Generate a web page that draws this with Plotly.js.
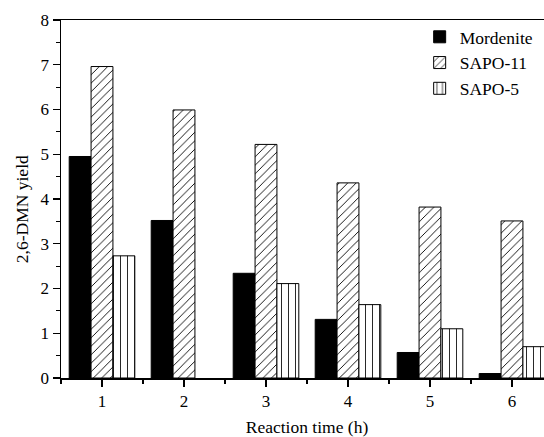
<!DOCTYPE html>
<html>
<head>
<meta charset="utf-8">
<script src="https://cdn.plot.ly/plotly-3.0.1.min.js"></script>
<style>
html,body{margin:0;padding:0;overflow:hidden;background:#fff;}
#chart{width:573px;height:437px;}
</style>
</head>
<body>
<div id="chart"></div>
<script>
const times = [1, 2, 3, 4, 5, 6];
const mordenite = [4.95, 3.52, 2.34, 1.31, 0.57, 0.10];
const sapo11 = [6.96, 5.99, 5.22, 4.36, 3.82, 3.51];
const sapo5 = [2.73, null, 2.11, 1.64, 1.10, 0.70];
const seriesNames = ['Mordenite', 'SAPO-11', 'SAPO-5'];
const tickLabels = ['1', '2', '3', '4', '5', '6'];

const FONT = 'Liberation Serif, Times New Roman, serif';

const traces = [
  {
    type: 'bar', name: seriesNames[0], x: times, y: mordenite,
    marker: {color: '#000', line: {color: '#000', width: 1}}
  },
  {
    type: 'bar', name: seriesNames[1], x: times, y: sapo11,
    marker: {color: '#fff', line: {color: '#000', width: 1},
      pattern: {shape: '/', fgcolor: '#000', bgcolor: '#fff', size: 6, solidity: 0.15}}
  },
  {
    type: 'bar', name: seriesNames[2], x: times, y: sapo5,
    marker: {color: '#fff', line: {color: '#000', width: 1},
      pattern: {shape: '|', fgcolor: '#000', bgcolor: '#fff', size: 7, solidity: 0.12}}
  }
];

const layout = {
  width: 573, height: 437,
  margin: {l: 61, r: 20, t: 20, b: 59},
  paper_bgcolor: '#fff', plot_bgcolor: '#fff',
  font: {family: FONT, size: 17, color: '#000'},
  barmode: 'group', bargap: 0.2, bargroupgap: 0,
  showlegend: true,
  legend: {
    x: 0.729, xanchor: 'left', y: 1.003, yanchor: 'top',
    bgcolor: 'rgba(0,0,0,0)', borderwidth: 0,
    font: {family: FONT, size: 17.5, color: '#000'},
    tracegroupgap: 0, itemwidth: 30
  },
  annotations: [{
    text: '2,6-DMN yield', xref: 'paper', yref: 'paper',
    x: -0.079, y: 0.472, xanchor: 'center', yanchor: 'middle',
    textangle: -90, showarrow: false,
    font: {family: FONT, size: 17.5, color: '#000'}
  }],
  xaxis: {
    range: [0.5, 6.5], tickmode: 'array', tickvals: times, ticktext: tickLabels,
    ticks: 'outside', ticklen: 7, tickwidth: 1.2, tickcolor: '#000',
    minor: {dtick: 0.5, tick0: 0.5, ticks: 'outside', ticklen: 4, tickwidth: 1.2, tickcolor: '#000'},
    showline: true, linecolor: '#000', linewidth: 1.5, mirror: true,
    showgrid: false, zeroline: false,
    tickfont: {family: FONT, size: 17, color: '#000'},
    title: {text: 'Reaction time (h)', font: {family: FONT, size: 17.5, color: '#000'}, standoff: 16}
  },
  yaxis: {
    range: [0, 8], dtick: 1, tick0: 0,
    ticks: 'outside', ticklen: 7, tickwidth: 1.2, tickcolor: '#000',
    minor: {dtick: 0.5, tick0: 0, ticks: 'outside', ticklen: 4, tickwidth: 1.2, tickcolor: '#000'},
    showline: true, linecolor: '#000', linewidth: 1.5, mirror: true,
    showgrid: false, zeroline: false,
    tickfont: {family: FONT, size: 17, color: '#000'}
  }
};

Plotly.newPlot('chart', traces, layout, {displayModeBar: false, staticPlot: true});
</script>
</body>
</html>
